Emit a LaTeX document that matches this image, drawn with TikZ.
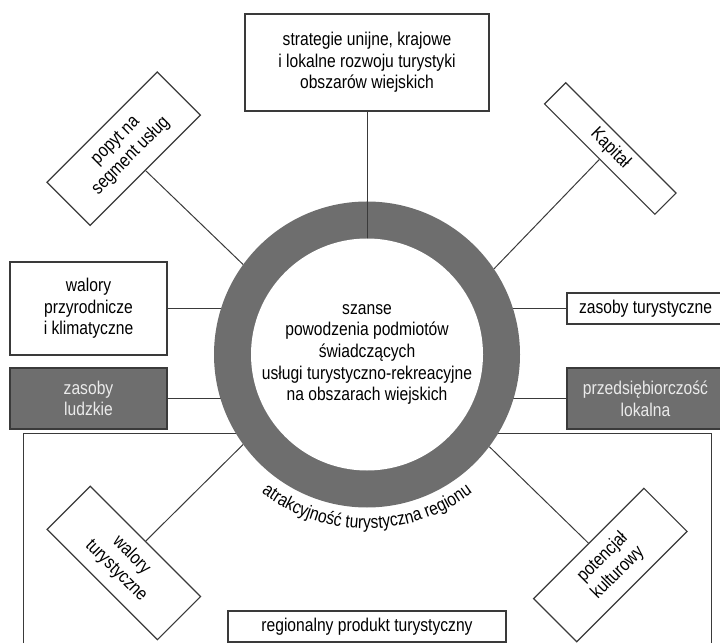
\documentclass[tikz,border=0pt]{standalone}
\usepackage{fontspec}
\setmainfont{Liberation Sans}[FakeStretch=0.845]
\usepackage{xcolor}
\usepackage{tikz}
\usetikzlibrary{decorations.text}

\definecolor{ringgray}{HTML}{6E6E6E}
\definecolor{linegray}{HTML}{3A3A3A}
\newcommand{\boxfont}{\fontsize{18.5}{21.6}\selectfont}

\begin{document}
\begin{tikzpicture}[x=1pt, y=1pt,
    box/.style={draw=linegray, line width=1.2pt, fill=white, align=center, inner sep=0pt, font=\boxfont},
    darkbox/.style={box, fill=ringgray, text=white!92!black},
    link/.style={draw=linegray, line width=1pt}]
    \useasboundingbox (0,0) rectangle (720,643);
    \coordinate (mid) at (367,288.5);

    % frame of the region
    \draw[link] (23,0) |- (711,209) -- (711,0);

    % side boxes
    \node[box, minimum width=157pt, minimum height=93pt] (walp) at (88.5,334.5) {walory\\ przyrodnicze\\ i klimatyczne};
    \node[box, minimum width=157pt, minimum height=31pt] (zastur) at (645.5,334.5) {zasoby turystyczne};
    \node[darkbox, minimum width=157pt, minimum height=61pt] (ludzkie) at (88.5,244.5) {zasoby\\ ludzkie};
    \node[darkbox, minimum width=157pt, minimum height=61pt] (przeds) at (645.5,244.5) {przedsiębiorczość\\ lokalna};
    \draw[link] (walp.east) -- (walp.east -| mid);
    \draw[link] (zastur.west) -- (zastur.west -| mid);
    \draw[link] (ludzkie.east) -- (ludzkie.east -| mid);
    \draw[link] (przeds.west) -- (przeds.west -| mid);

    % ring in the middle
    \node[circle, fill=ringgray, minimum size=306pt, inner sep=0pt] (ring) at (mid) {};

    % strategies on top
    \node[box, minimum width=244pt, minimum height=97pt] (strat) at (367,580.5)
        {strategie unijne, krajowe\\ i lokalne rozwoju turystyki\\ obszarów wiejskich};
    \draw[link] (strat.south) -- (ring.center);
    \fill[white] (ring.center) circle (116);
    \node[align=center, font=\boxfont] (core) at (ring.center)
        {szanse\\ powodzenia podmiotów\\ świadczących\\ usługi turystyczno-rekreacyjne\\ na obszarach wiejskich};

    % slanted boxes
    \node[box, rotate=45, minimum width=156pt, minimum height=61pt] (popyt) at (123.7,494.3) {popyt na\\ segment usług};
    \node[box, rotate=-45, minimum width=156pt, minimum height=30pt] (kapital) at (610.3,494.5) {Kapitał};
    \node[box, rotate=-45, minimum width=156pt, minimum height=61pt] (waltur) at (123.8,80) {walory\\ turystyczne};
    \node[box, rotate=45, minimum width=156pt, minimum height=61pt] (potenc) at (610.3,78) {potencjał\\ kulturowy};
    \node[box, minimum width=278pt, minimum height=31pt] (region) at (367,16.5) {regionalny produkt turystyczny};

    \draw[link] (popyt.south) -- (ring.144.6);
    \draw[link] (kapital.south) -- (ring.34.8);
    \draw[link] (waltur.north) -- (ring.216);
    \draw[link] (potenc.north) -- (ring.323.2);

    % text round the ring
    \path[decorate, decoration={text along path, text align=center,
        text={|\boxfont|atrakcyjność turystyczna regionu}}]
        (ring.center) ++(200:174) arc[start angle=200, end angle=340, radius=174];
\end{tikzpicture}
\end{document}
